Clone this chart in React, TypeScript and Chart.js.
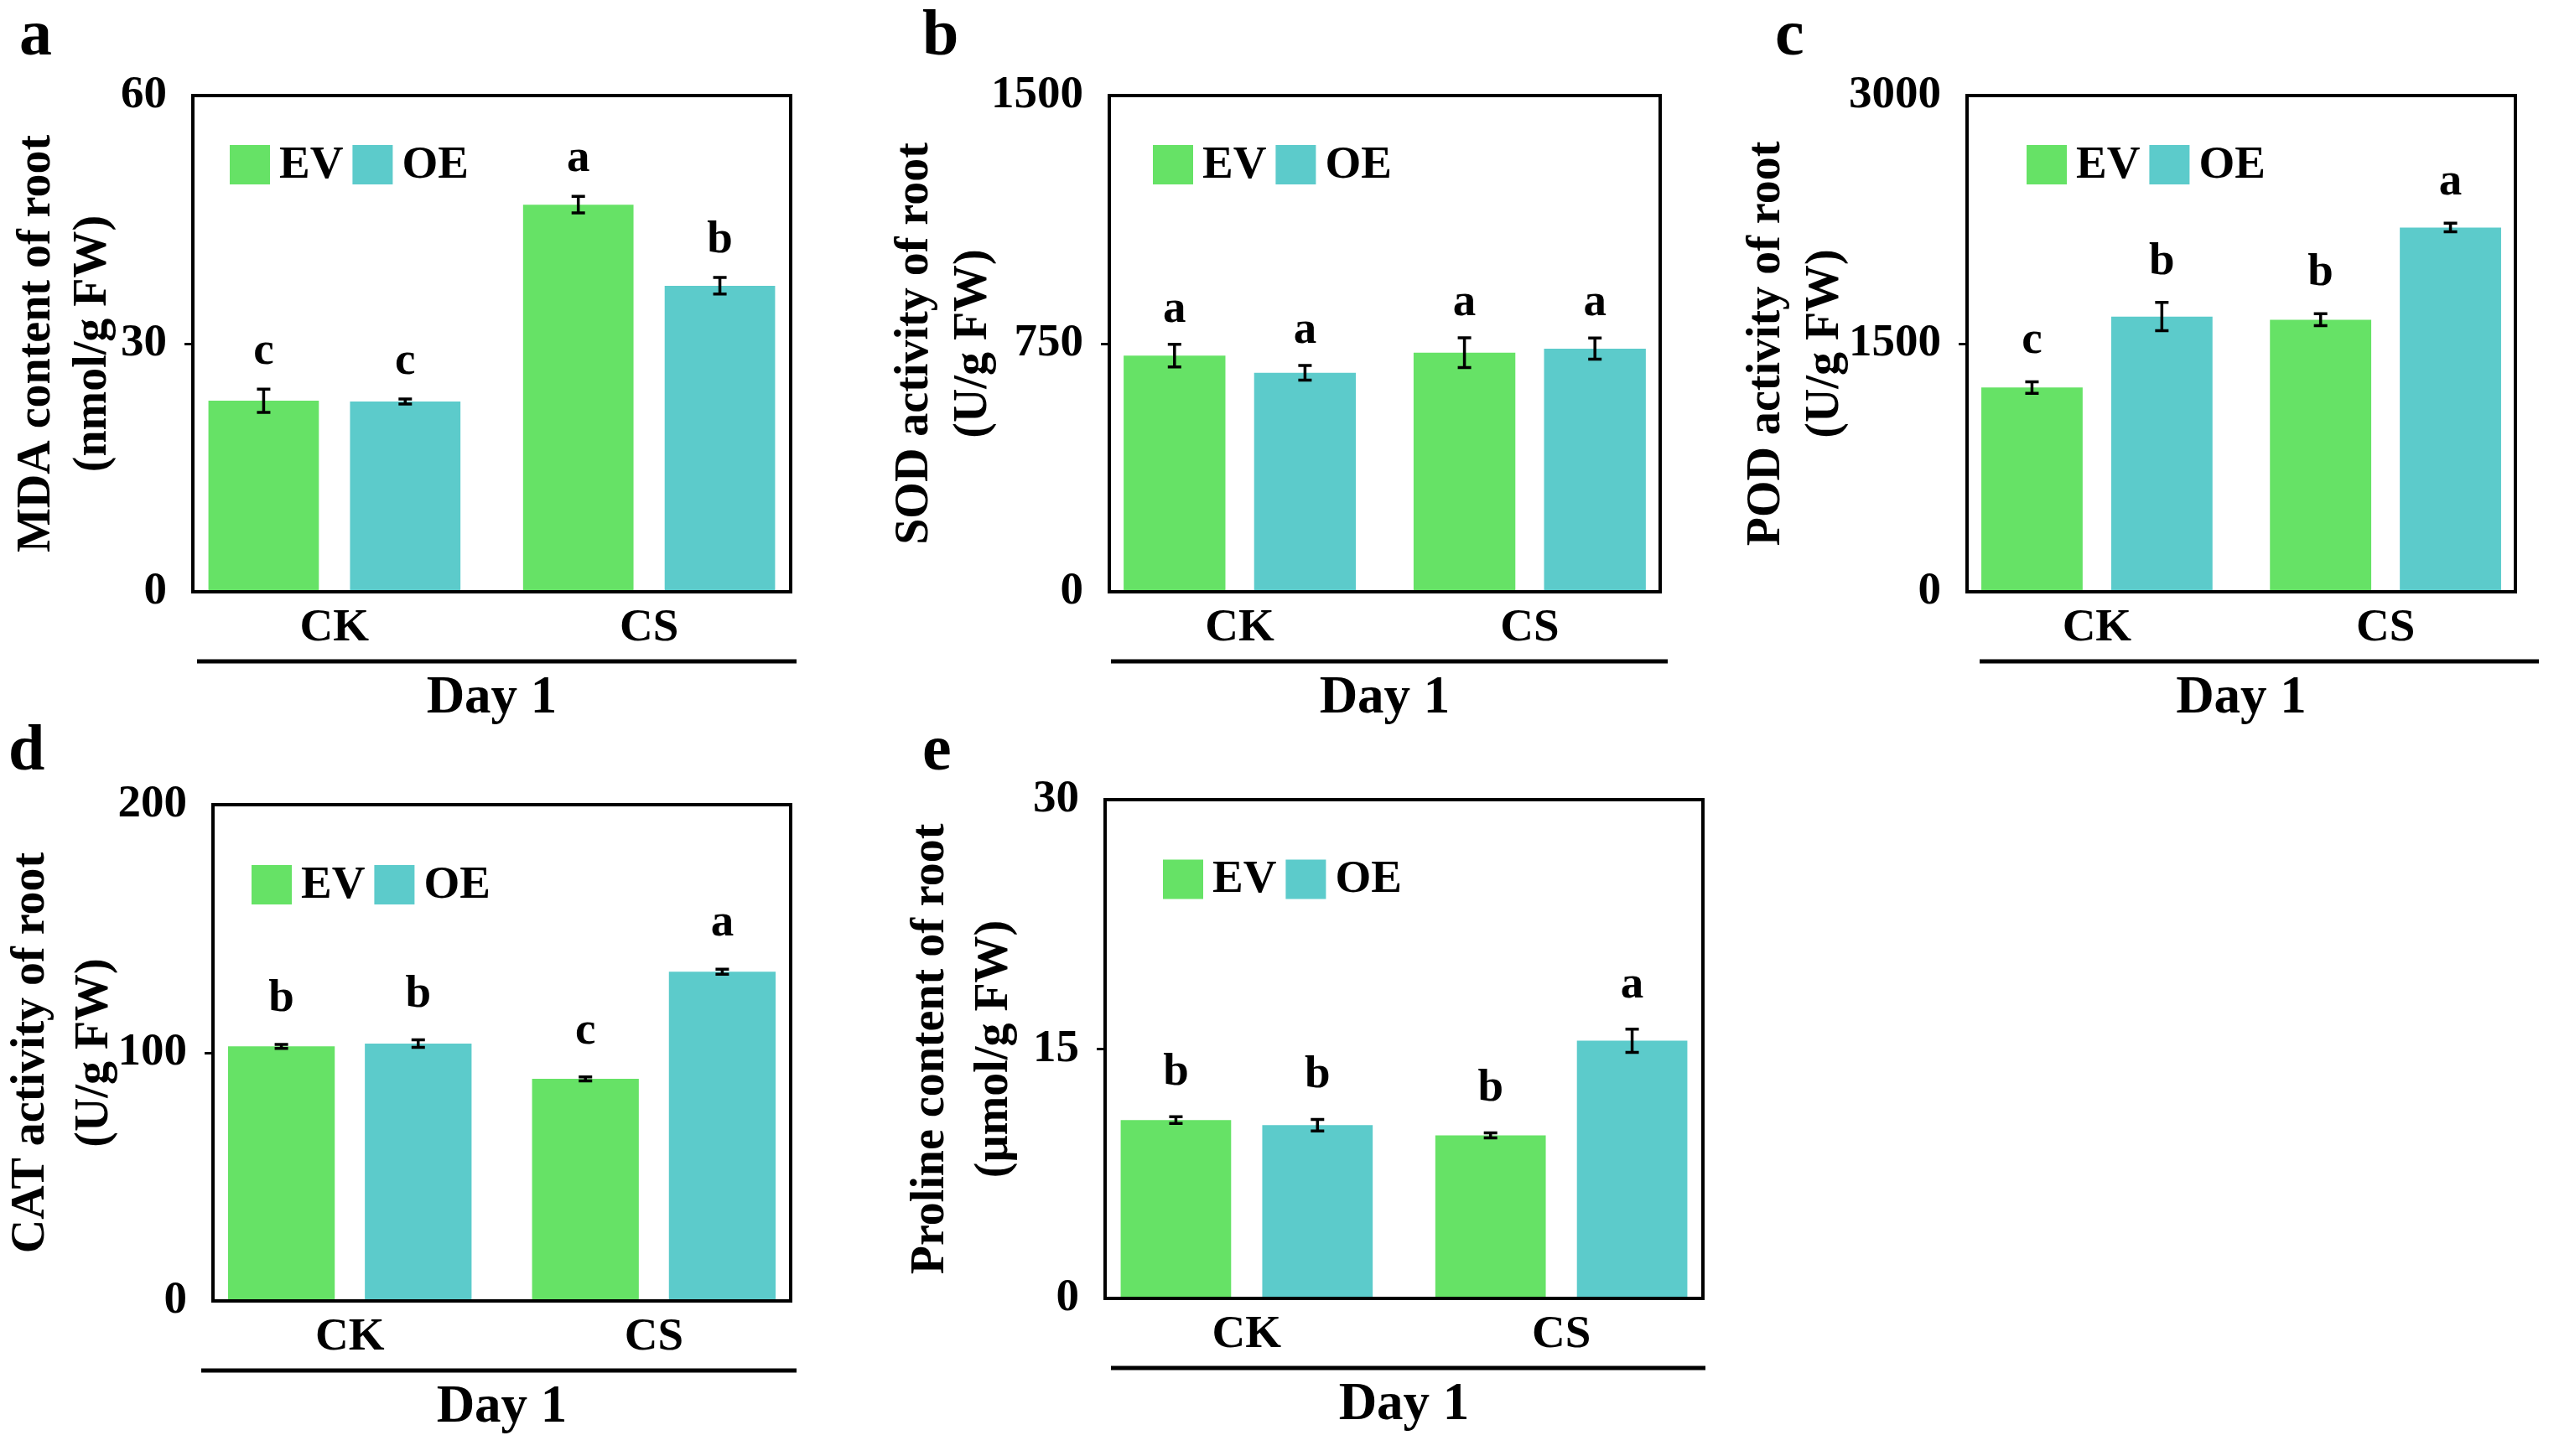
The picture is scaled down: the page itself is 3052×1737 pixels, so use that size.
import React, { useEffect, useRef } from 'react';
import { Chart, registerables } from 'chart.js';

Chart.register(...registerables);

// ---------------- data ----------------
const categories = ['CK', 'CS'];
const seriesNames = ['EV', 'OE'];
const seriesColors = ['#66E266', '#5CCBCB'];
const xAxisTitle = 'Day 1';

// a: MDA
const mdaEV = [23.1, 46.8];
const mdaOE = [23.0, 37.0];
const mdaEVErr = [1.4, 1.0];
const mdaOEErr = [0.3, 1.0];
const mdaEVSig = ['c', 'a'];
const mdaOESig = ['c', 'b'];
const mdaTicks = [0, 30, 60];
const mdaTitle = ['MDA content of root', '(nmol/g FW)'];

// b: SOD
const sodEV = [714, 723];
const sodOE = [662, 735];
const sodEVErr = [34, 45];
const sodOEErr = [22, 32];
const sodEVSig = ['a', 'a'];
const sodOESig = ['a', 'a'];
const sodTicks = [0, 750, 1500];
const sodTitle = ['SOD activity of root', '(U/g FW)'];

// c: POD
const podEV = [1235, 1645];
const podOE = [1664, 2202];
const podEVErr = [35, 36];
const podOEErr = [85, 26];
const podEVSig = ['c', 'b'];
const podOESig = ['b', 'a'];
const podTicks = [0, 1500, 3000];
const podTitle = ['POD activity of root', '(U/g FW)'];

// d: CAT
const catEV = [102.6, 89.5];
const catOE = [103.7, 132.7];
const catEVErr = [0.8, 0.8];
const catOEErr = [1.5, 1.0];
const catEVSig = ['b', 'c'];
const catOESig = ['b', 'a'];
const catTicks = [0, 100, 200];
const catTitle = ['CAT activity of root', '(U/g FW)'];

// e: Proline
const proEV = [10.73, 9.81];
const proOE = [10.42, 15.5];
const proEVErr = [0.2, 0.15];
const proOEErr = [0.35, 0.7];
const proEVSig = ['b', 'b'];
const proOESig = ['b', 'a'];
const proTicks = [0, 15, 30];
const proTitle = ['Proline content of root', '(\u00b5mol/g FW)'];

// ---------------- layout / style ----------------
const FONT = "'Times New Roman', 'Liberation Serif', serif";

type Box = { left: number; top: number; width: number; height: number };
type Area = { left: number; top: number; right: number; bottom: number };
type PanelSpec = {
  letter: string;
  labelPos: { x: number; y: number };
  title: string[];
  ev: number[]; oe: number[];
  evErr: number[]; oeErr: number[];
  evSig: string[]; oeSig: string[];
  ticks: number[];
  canvas: Box;
  area: Area;
  titleX: number;
  titleLH: number;
  legend: [number, number];
  letterGap: number;
  underline: [number, number];
};

const panels: PanelSpec[] = [
  {
    letter: 'a', labelPos: { x: 23, y: 0 }, title: mdaTitle,
    ev: mdaEV, oe: mdaOE, evErr: mdaEVErr, oeErr: mdaOEErr, evSig: mdaEVSig, oeSig: mdaOESig, ticks: mdaTicks,
    canvas: { left: 0, top: 0, width: 1010, height: 880 },
    area: { left: 230, top: 114, right: 943, bottom: 706 },
    titleX: 45, titleLH: 67, legend: [44, 82.5], letterGap: 30, underline: [5, 7],
  },
  {
    letter: 'b', labelPos: { x: 1100, y: 0 }, title: sodTitle,
    ev: sodEV, oe: sodOE, evErr: sodEVErr, oeErr: sodOEErr, evSig: sodEVSig, oeSig: sodOESig, ticks: sodTicks,
    canvas: { left: 1020, top: 0, width: 1010, height: 880 },
    area: { left: 1323, top: 114, right: 1980, bottom: 706 },
    titleX: 1091.5, titleLH: 70, legend: [52, 82.5], letterGap: 27, underline: [2, 9],
  },
  {
    letter: 'c', labelPos: { x: 2117, y: 0 }, title: podTitle,
    ev: podEV, oe: podOE, evErr: podEVErr, oeErr: podOEErr, evSig: podEVSig, oeSig: podOESig, ticks: podTicks,
    canvas: { left: 2040, top: 0, width: 1012, height: 880 },
    area: { left: 2346, top: 114, right: 3000, bottom: 706 },
    titleX: 2107.5, titleLH: 70, legend: [71, 82.5], letterGap: 34, underline: [15, 28],
  },
  {
    letter: 'd', labelPos: { x: 10, y: 853 }, title: catTitle,
    ev: catEV, oe: catOE, evErr: catEVErr, oeErr: catOEErr, evSig: catEVSig, oeSig: catOESig, ticks: catTicks,
    canvas: { left: 0, top: 880, width: 1010, height: 857 },
    area: { left: 254, top: 960, right: 943, bottom: 1552 },
    titleX: 38, titleLH: 76, legend: [46, 95.5], letterGap: 40, underline: [-14, 7],
  },
  {
    letter: 'e', labelPos: { x: 1100, y: 853 }, title: proTitle,
    ev: proEV, oe: proOE, evErr: proEVErr, oeErr: proOEErr, evSig: proEVSig, oeSig: proOESig, ticks: proTicks,
    canvas: { left: 1020, top: 880, width: 1032, height: 857 },
    area: { left: 1318, top: 954, right: 2031, bottom: 1549 },
    titleX: 1111, titleLH: 76, legend: [69, 95], letterGap: 38, underline: [7, 3],
  },
];

const TICK_SIZE = 55;
const TITLE_SIZE = 56;
const DAY_SIZE = 63;
const DAY_LH = 1.2;
const DAY_OFFSET = 128; // center of "Day 1" below plot bottom
const UNDERLINE_OFFSET = 83;

const annotate = {
  id: 'annotate',
  afterDatasetsDraw(chart: any, _args: any, opts: any) {
    const { ctx, chartArea: a, scales } = chart;
    const y = scales.y;
    ctx.save();
    // frame
    ctx.strokeStyle = '#000';
    ctx.lineWidth = 4;
    ctx.strokeRect(a.left, a.top, a.right - a.left, a.bottom - a.top);
    // error bars + significance letters
    ctx.font = `bold ${TICK_SIZE}px ${FONT}`;
    ctx.textAlign = 'center';
    ctx.textBaseline = 'alphabetic';
    ctx.fillStyle = '#000';
    chart.data.datasets.forEach((ds: any, di: number) => {
      const meta = chart.getDatasetMeta(di);
      meta.data.forEach((el: any, i: number) => {
        const v = ds.data[i];
        const e = ds.errors[i];
        const yt = y.getPixelForValue(v + e);
        const yb = y.getPixelForValue(v - e);
        const x = el.x;
        ctx.lineWidth = 3.5;
        ctx.beginPath();
        ctx.moveTo(x, yt); ctx.lineTo(x, yb);
        ctx.moveTo(x - 8, yt); ctx.lineTo(x + 8, yt);
        ctx.moveTo(x - 8, yb); ctx.lineTo(x + 8, yb);
        ctx.stroke();
        ctx.fillText(ds.sig[i], x, yt - opts.letterGap);
      });
    });
    // legend inside plot
    let lx = a.left + opts.legend[0];
    const cy = a.top + opts.legend[1];
    ctx.textAlign = 'left';
    chart.data.datasets.forEach((ds: any) => {
      ctx.fillStyle = ds.backgroundColor;
      ctx.fillRect(lx, cy - 23.5, 48, 47);
      lx += 48 + 11;
      ctx.fillStyle = '#000';
      ctx.fillText(ds.label, lx, cy + 15);
      lx += ctx.measureText(ds.label).width + 11;
    });
    // group underline
    ctx.lineWidth = 5;
    ctx.beginPath();
    const uy = a.bottom + UNDERLINE_OFFSET;
    ctx.moveTo(a.left + opts.underline[0], uy);
    ctx.lineTo(a.right + opts.underline[1], uy);
    ctx.stroke();
    ctx.restore();
  },
};

function makeConfig(p: PanelSpec): any {
  const { canvas: c, area: a } = p;
  const xAxisH = DAY_OFFSET + (DAY_SIZE * DAY_LH) / 2;
  const padBottom = c.top + c.height - (a.bottom + xAxisH);
  const barOpts = { borderWidth: 0, categoryPercentage: 0.9, barPercentage: 0.78 };
  return {
    type: 'bar',
    data: {
      labels: categories,
      datasets: [
        { label: seriesNames[0], data: p.ev, errors: p.evErr, sig: p.evSig, backgroundColor: seriesColors[0], ...barOpts },
        { label: seriesNames[1], data: p.oe, errors: p.oeErr, sig: p.oeSig, backgroundColor: seriesColors[1], ...barOpts },
      ],
    },
    options: {
      responsive: false,
      maintainAspectRatio: false,
      animation: false,
      devicePixelRatio: 1,
      layout: {
        padding: {
          left: 0,
          top: a.top - c.top,
          right: c.left + c.width - a.right,
          bottom: padBottom,
        },
      },
      plugins: {
        legend: { display: false },
        tooltip: { enabled: false },
        annotate: { legend: p.legend, letterGap: p.letterGap, underline: p.underline },
      },
      scales: {
        x: {
          type: 'category',
          grid: { display: false, drawTicks: false },
          border: { display: false },
          ticks: {
            color: '#000', padding: 11, maxRotation: 0, autoSkip: false,
            font: { family: FONT, size: TICK_SIZE, weight: 'bold', lineHeight: 1.2 },
          },
          title: {
            display: true, text: xAxisTitle, color: '#000', padding: 0,
            font: { family: FONT, size: DAY_SIZE, weight: 'bold', lineHeight: DAY_LH },
          },
          afterBuildTicks: (s: any) => { s._startValue = -0.45; s._valueRange = 1.9; },
          afterFit: (s: any) => { s.height = xAxisH; },
        },
        y: {
          type: 'linear',
          min: p.ticks[0],
          max: p.ticks[p.ticks.length - 1],
          afterBuildTicks: (s: any) => { s.ticks = p.ticks.map((v) => ({ value: v })); },
          grid: {
            display: true, drawOnChartArea: false, drawTicks: true, tickLength: 10,
            lineWidth: 3, tickWidth: 3,
            tickColor: (ctx: any) => (ctx.index > 0 && ctx.index < p.ticks.length - 1 ? '#000' : 'rgba(0,0,0,0)'),
            color: 'rgba(0,0,0,0)',
          },
          border: { display: false },
          ticks: {
            color: '#000', padding: 21,
            font: { family: FONT, size: TICK_SIZE, weight: 'bold' },
            callback: (v: any) => String(v),
          },
          title: {
            display: true, text: p.title, color: '#000',
            font: { family: FONT, size: TITLE_SIZE, weight: 'bold', lineHeight: p.titleLH / TITLE_SIZE },
            padding: { top: p.titleX - c.left - p.titleLH / 2, bottom: 0 },
          },
          afterFit: (s: any) => { s.width = a.left - c.left; },
        },
      },
    },
    plugins: [annotate],
  };
}

function Panel({ spec }: { spec: PanelSpec }) {
  const ref = useRef<HTMLCanvasElement>(null);
  useEffect(() => {
    if (!ref.current) return;
    const chart = new Chart(ref.current, makeConfig(spec));
    return () => chart.destroy();
  }, [spec]);
  const c = spec.canvas;
  return (
    <>
      <canvas
        ref={ref}
        width={c.width}
        height={c.height}
        style={{ position: 'absolute', left: c.left, top: c.top, width: c.width, height: c.height, display: 'block' }}
      />
      <div
        style={{
          position: 'absolute', left: spec.labelPos.x, top: spec.labelPos.y,
          font: `bold 78px ${FONT}`, lineHeight: 1, color: '#000',
        }}
      >
        {spec.letter}
      </div>
    </>
  );
}

export default function App() {
  return (
    <div style={{ position: 'absolute', left: 0, top: 0, width: 3052, height: 1737, background: '#fff', overflow: 'hidden' }}>
      {panels.map((p) => (
        <Panel key={p.letter} spec={p} />
      ))}
    </div>
  );
}
